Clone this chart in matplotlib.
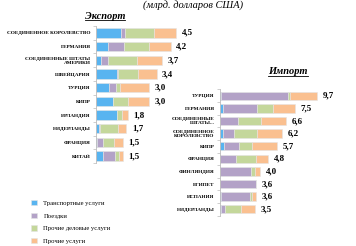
import numpy as np
import matplotlib
matplotlib.use('Agg')
import matplotlib.pyplot as plt
from matplotlib.lines import Line2D

# Export data (bln USD)
exp_countries = ['СОЕДИНЕННОЕ КОРОЛЕВСТВО', 'ГЕРМАНИЯ', 'СОЕДИНЕННЫЕ ШТАТЫ\nАМЕРИКИ', 'ШВЕЙЦАРИЯ',
                 'ТУРЦИЯ', 'КИПР', 'ИРЛАНДИЯ', 'НИДЕРЛАНДЫ', 'ФРАНЦИЯ', 'КИТАЙ']
exp_transport = [1.4, 0.7, 0.3, 1.2, 0.75, 0.95, 1.2, 0.17, 0.08, 0.4]
exp_travel = [0.25, 0.9, 0.4, 0.05, 0.35, 0.0, 0.0, 0.05, 0.32, 0.68]
exp_business = [1.6, 1.4, 1.6, 1.1, 0.25, 0.85, 0.25, 1.03, 0.6, 0.22]
exp_other = [1.25, 1.2, 1.4, 1.05, 1.65, 1.2, 0.35, 0.45, 0.5, 0.2]
exp_total = ['4,5', '4,2', '3,7', '3,4', '3,0', '3,0', '1,8', '1,7', '1,5', '1,5']

# Import data (bln USD)
imp_countries = ['ТУРЦИЯ', 'ГЕРМАНИЯ', 'СОЕДИНЕННЫЕ\nШТАТЫ...', 'СОЕДИНЕННОЕ\nКОРОЛЕВСТВО', 'КИПР',
                 'ФРАНЦИЯ', 'ФИНЛЯНДИЯ', 'ЕГИПЕТ', 'ИСПАНИЯ', 'НИДЕРЛАНДЫ']
imp_transport = [0.15, 0.27, 0.05, 0.33, 0.43, 0.05, 0.05, 0.05, 0.15, 0.15]
imp_travel = [6.65, 3.43, 1.75, 1.07, 1.47, 1.55, 3.05, 3.55, 2.85, 0.35]
imp_business = [0.2, 1.6, 2.3, 2.3, 1.3, 2.0, 0.4, 0.0, 0.2, 1.6]
imp_other = [2.7, 2.2, 2.5, 2.5, 2.5, 1.2, 0.5, 0.0, 0.4, 1.4]
imp_total = ['9,7', '7,5', '6,6', '6,2', '5,7', '4,8', '4,0', '3,6', '3,6', '3,5']

series_names = ['Транспортные услуги', 'Поездки', 'Прочие деловые услуги', 'Прочие услуги']
colors = ['#58b4f0', '#b3a2c7', '#c4d79b', '#fac090']

plt.rcParams['font.family'] = ['Liberation Serif', 'DejaVu Serif']

fig = plt.figure(figsize=(3.56, 2.46), dpi=100)


def stacked(ax, cats, parts, totals, xmax):
    y = np.arange(len(cats))
    left = np.zeros(len(cats))
    handles = []
    for vals, col in zip(parts, colors):
        vals = np.array(vals)
        h = ax.barh(y, vals, left=left, height=0.68, color=col,
                    edgecolor='#e4e4e4', linewidth=0.4)
        handles.append(h)
        left += vals
    for yi, (v, t) in enumerate(zip(left, totals)):
        ax.annotate(t, (v, yi), xytext=(4, 0), textcoords='offset points',
                    va='center', ha='left', fontsize=6.5, fontweight='bold',
                    annotation_clip=False)
    ax.set_xlim(0, xmax)
    ax.set_ylim(len(cats) - 0.5, -0.5)
    ax.set_yticks(y)
    ax.set_yticklabels(cats, fontsize=3.8, fontweight='bold', linespacing=0.95)
    ax.set_xticks([])
    ax.set_yticks(np.arange(len(cats) + 1) - 0.5, minor=True)
    ax.tick_params(axis='y', which='major', length=0, pad=4)
    ax.tick_params(axis='y', which='minor', length=2, color='#bbbbbb', width=0.5)
    for s in ['top', 'right', 'bottom']:
        ax.spines[s].set_visible(False)
    ax.spines['left'].set_color('#bbbbbb')
    ax.spines['left'].set_linewidth(0.6)
    ax.patch.set_alpha(0)
    return handles


ax1 = fig.add_axes([96 / 356, 1 - 163 / 246, 89 / 356, 137 / 246])
handles = stacked(ax1, exp_countries, [exp_transport, exp_travel, exp_business, exp_other],
                  exp_total, 5)

ax2 = fig.add_axes([220 / 356, 1 - 215.5 / 246, 100 / 356, 126 / 246])
stacked(ax2, imp_countries, [imp_transport, imp_travel, imp_business, imp_other],
        imp_total, 10)

fig.text(193 / 356, 1 - 5.5 / 246, '(млрд. долларов США)', ha='center', va='center',
         fontsize=7.5, fontstyle='italic')

t1 = fig.text(105 / 356, 1 - 16.5 / 246, 'Экспорт', ha='center', va='center',
              fontsize=7.5, fontstyle='italic', fontweight='bold')
t2 = fig.text(288 / 356, 1 - 72 / 246, 'Импорт', ha='center', va='center',
              fontsize=7.5, fontstyle='italic', fontweight='bold')

# underline the headers
fig.canvas.draw()
r = fig.canvas.get_renderer()
for t in (t1, t2):
    bb = t.get_window_extent(r).transformed(fig.transFigure.inverted())
    fig.add_artist(Line2D([bb.x0, bb.x1], [bb.y0 + 0.004, bb.y0 + 0.004],
                          transform=fig.transFigure, color='black', lw=0.6))

fig.legend(handles, series_names, loc='upper left', bbox_to_anchor=(28 / 356, 1 - 197 / 246),
           frameon=False, fontsize=4.8, handlelength=0.8, handleheight=0.8,
           labelspacing=1.0, handletextpad=1.0, borderpad=0)

fig.savefig('out.png', dpi=100)
